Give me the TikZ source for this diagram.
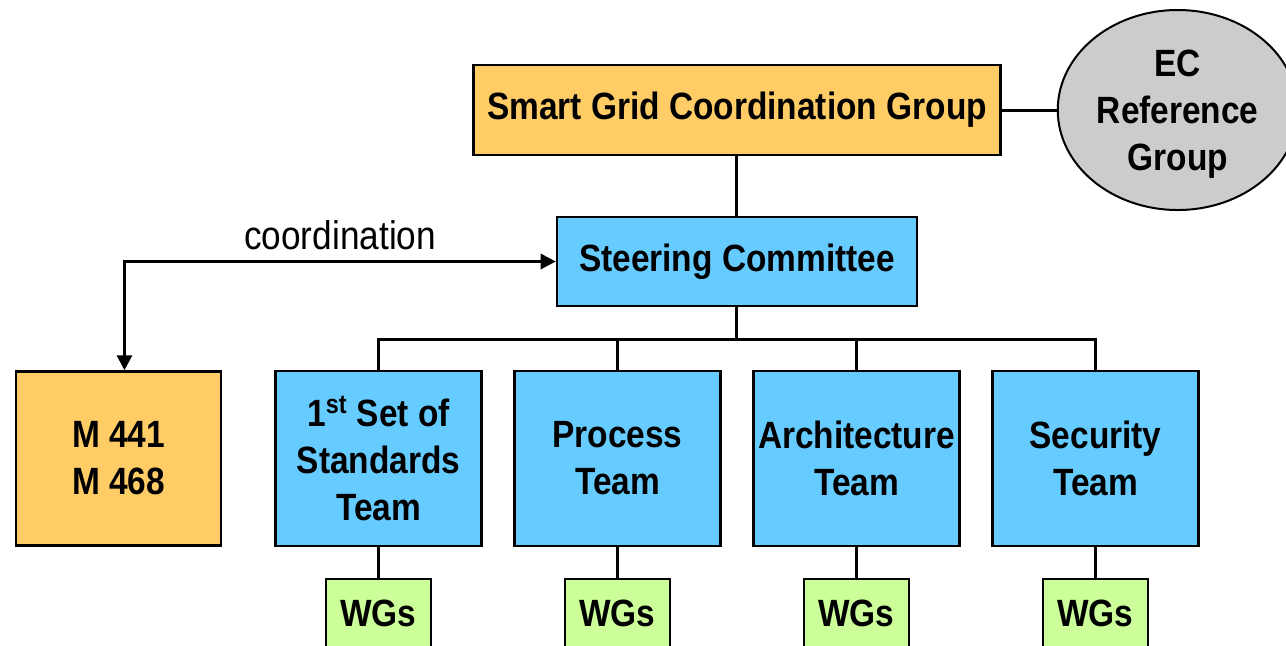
\documentclass[tikz,border=0pt]{standalone}
\usepackage{fontspec}
\setmainfont{Liberation Sans}[FakeStretch=0.88]
\usepackage{tikz}
\usetikzlibrary{trees,positioning,shapes.geometric,arrows.meta}
\definecolor{groupfill}{HTML}{FFCC66}
\definecolor{teamfill}{HTML}{66CCFF}
\definecolor{wgfill}{HTML}{CCFF99}
\definecolor{ecfill}{HTML}{CCCCCC}

\begin{document}
\begin{tikzpicture}[level 1/.style={level distance=75.75pt},
	level 2/.style={level distance=98.5pt,sibling distance=119.5pt},
	level 3/.style={level distance=77.5pt}]
\tikzset{every node/.style=
	{font=\fontsize{19pt}{23.5pt}\selectfont\bfseries,align=center,inner sep=0pt},
	box/.style={draw,line width=1.25pt},
	group box/.style={box,fill=groupfill,minimum width=263.5pt,minimum height=45pt},
	steer box/.style={box,fill=teamfill,minimum width=180pt,minimum height=44.5pt},
	team box/.style={box,fill=teamfill,minimum width=103pt,minimum height=87.5pt},
	mandate box/.style={box,fill=groupfill,minimum width=102.5pt,minimum height=87pt},
	wg box/.style={box,fill=wgfill,minimum width=52.5pt,minimum height=34.5pt},
	ec ellipse/.style={draw,line width=1pt,ellipse,fill=ecfill,minimum width=120pt,
		minimum height=100pt,text depth=0pt},
	coord label/.style={font=\fontsize{20pt}{24pt}\selectfont\mdseries},
	link/.style={line width=1.5pt},
	coord arrow/.style={link,>={Triangle[length=7.5pt,width=7.5pt]},<->},
	edge from parent/.style={draw,link},
	edge from parent path={(\tikzparentnode.south) -- ++(0,-16.25pt) -| (\tikzchildnode.north)}}
\useasboundingbox (-368.5pt,-267.5pt) rectangle (274.5pt,55pt);
\node[group box] (sgcg) {Smart Grid Coordination Group}
	child {node[steer box] (steering) {Steering Committee}
		child {node[team box] (firstset) {1\textsuperscript{st} Set of\\Standards\\Team}
			child {node[wg box] (wgfirst) {WGs}}}
		child {node[team box] (process) {Process\\Team}
			child {node[wg box] (wgprocess) {WGs}}}
		child {node[team box] (architecture) {Architecture\\Team}
			child {node[wg box] (wgarch) {WGs}}}
		child {node[team box] (security) {Security\\Team}
			child {node[wg box] (wgsecurity) {WGs}}}
	};
\node[ec ellipse,right=27.5pt of sgcg] (ecref) {EC\\Reference\\Group};
\node[mandate box,left=26pt of firstset] (mandates) {M 441\\M 468};
\draw[link] (sgcg) -- (ecref);
\draw[coord arrow]
	([xshift=3pt]mandates.north) |- node[pos=0.75,above=5pt,coord label] {coordination} (steering.west);
\end{tikzpicture}
\end{document}
